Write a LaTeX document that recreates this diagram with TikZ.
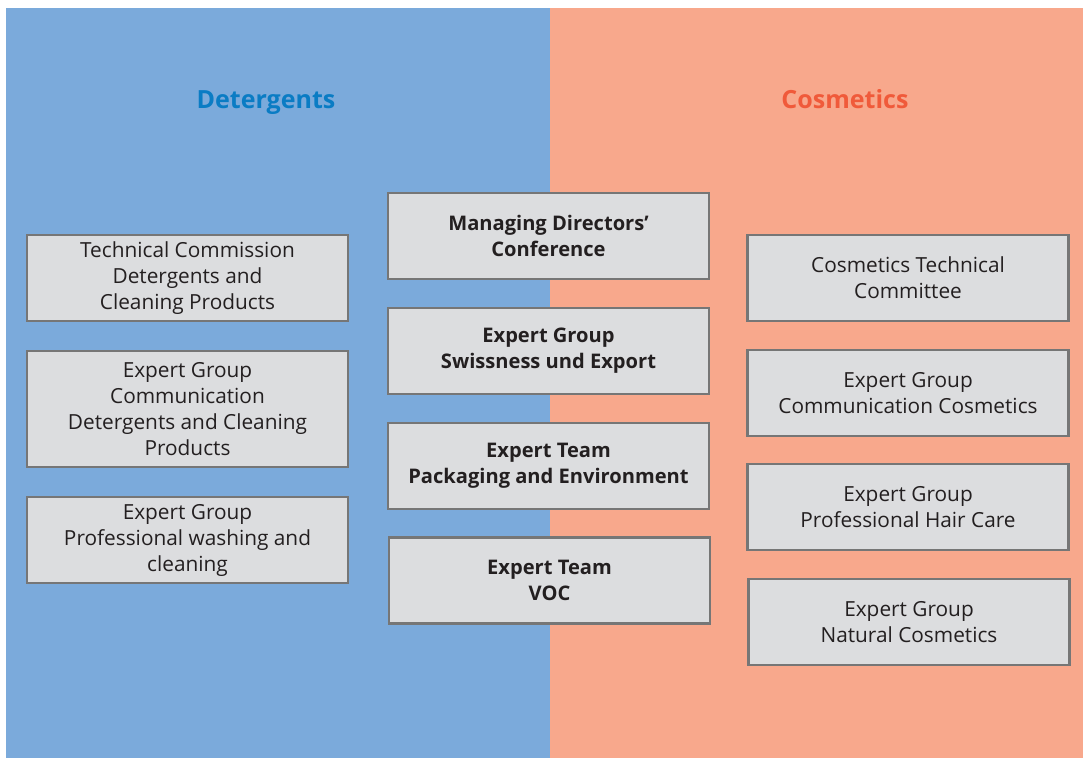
\documentclass[tikz,border=0pt]{standalone}
\usepackage{fontspec}
\setmainfont{Open Sans}
\definecolor{detblue}{HTML}{7BAADB}
\definecolor{cosred}{HTML}{F8A88C}
\definecolor{boxfill}{HTML}{DCDDDF}
\definecolor{boxline}{HTML}{767676}
\definecolor{dettitle}{HTML}{0A7CC4}
\definecolor{costitle}{HTML}{F05A3A}
\definecolor{txt}{HTML}{231F20}
\begin{document}
\begin{tikzpicture}
    [
        x=0.025cm, y=-0.025cm,
        unit/.style = {draw=boxline, fill=boxfill, shape=rectangle, minimum width=321*0.025cm, minimum height=86*0.025cm, line width=1.8pt, align=center, text=txt, font=\fontsize{14.8}{18.5}\selectfont},
        bigunit/.style = {unit, minimum height=116*0.025cm},
        board/.style = {unit, font=\fontsize{14.3}{18.5}\selectfont\bfseries},
        title/.style = {anchor=base, font=\fontsize{17.8}{20}\selectfont\bfseries},
    ]

    \useasboundingbox (0,0) rectangle (1083,758);
    \fill[detblue] (6,8) rectangle (550,758);
    \fill[cosred] (550,8) rectangle (1083,758);

    \node[title, text=dettitle] (det) at (266,108) {Detergents};
    \node[title, text=costitle] (cos) at (845,108) {Cosmetics};

    % detergents
    \node[unit] (tc) at (187.5,278) {Technical Commission\\Detergents and\\Cleaning Products};
    \node[bigunit] (egc) at (187.5,409) {Expert Group\\Communication\\Detergents and Cleaning\\Products};
    \node[unit] (egp) at (187.5,540) {Expert Group\\Professional washing and\\cleaning};

    % joint
    \node[board] (mdc) at (548.5,236) {Managing Directors'\\Conference};
    \node[board] (egs) at (548.5,351) {Expert Group\\Swissness und Export};
    \node[board] (etp) at (548.5,466) {Expert Team\\Packaging and Environment};
    \node[board] (etv) at (549.5,580.5) {Expert Team\\VOC};

    % cosmetics
    \node[unit] (ctc) at (908,278) {Cosmetics Technical\\Committee};
    \node[unit] (egcc) at (908,393) {Expert Group\\Communication Cosmetics};
    \node[unit] (eghc) at (908,507) {Expert Group\\Professional Hair Care};
    \node[unit] (egnc) at (909,622) {Expert Group\\Natural Cosmetics};
\end{tikzpicture}
\end{document}
